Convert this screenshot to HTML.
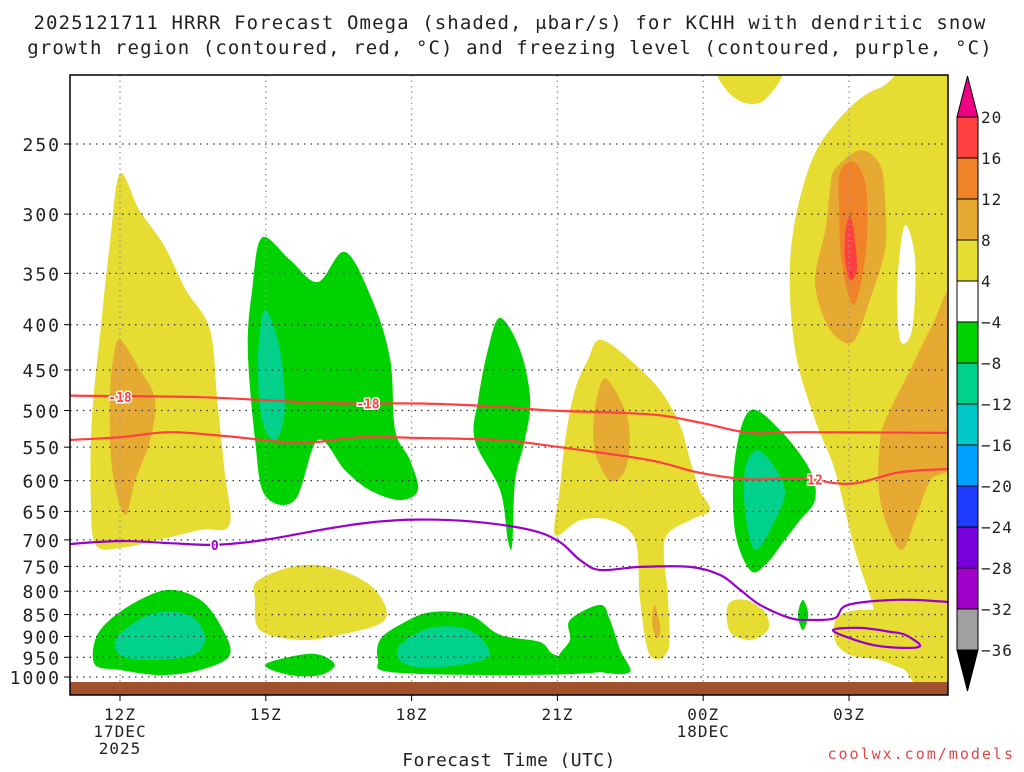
<!DOCTYPE html>
<html><head><meta charset="utf-8"><style>
body{margin:0;background:#fff;width:1024px;height:768px;overflow:hidden;font-family:"DejaVu Sans Mono",monospace}
svg text{font-family:"DejaVu Sans Mono","Liberation Mono",monospace;fill:#222}
</style></head><body>
<svg id="chart" width="1024" height="768" xmlns="http://www.w3.org/2000/svg">
<text x="510" y="29" font-size="19" letter-spacing="1.1" text-anchor="middle">2025121711 HRRR Forecast Omega (shaded, μbar/s) for KCHH with dendritic snow</text>
<text x="510" y="54" font-size="19" letter-spacing="1.1" text-anchor="middle">growth region (contoured, red, °C) and freezing level (contoured, purple, °C)</text>
<g id="plot"></g>
<g id="axes"></g>
<g id="cbar"></g>
<text x="509" y="766" font-size="18" letter-spacing="0.4" text-anchor="middle">Forecast Time (UTC)</text>
<text x="1015" y="759" font-size="15" letter-spacing="2" text-anchor="end" style="fill:#e04848">coolwx.com/models</text>
</svg>
<script>
// ---- data (hours since 12Z, pressure hPa) ----
const pressureTicks=[250,300,350,400,450,500,550,600,650,700,750,800,850,900,950,1000];
const timeTicks=[0,3,6,9,12,15];
const timeLabels=["12Z","15Z","18Z","21Z","00Z","03Z"];
const dateLabels=[["17DEC","2025"],[],[],[],["18DEC"],[]];
const cbarLevels=[20,16,12,8,4,-4,-8,-12,-16,-20,-24,-28,-32,-36];
const cbarColors=["#ff4040","#f08228","#e6aa32","#e6dc32","#ffffff","#00d200","#00d28c","#00c8c8","#00a0ff","#1e3cff","#7800dc","#a000c8","#a0a0a0"];
const yellowA=[[0,270],[0.4,297],[0.9,325],[1.35,365],[1.85,405],[2.0,486],[2.15,584],[2.25,673],[1.65,682],[0.8,700],[0,715],[-0.5,709],[-0.6,631],[-0.58,512],[-0.4,405],[-0.2,321]];
const yellowD=[[9.88,416],[10.49,438],[11.11,474],[11.52,519],[11.73,569],[11.93,615],[12.14,648],[11.73,665],[11.21,700],[11.28,818],[11.28,932],[10.9,944],[10.7,818],[10.6,700],[10.08,665],[9.47,665],[8.95,691],[9.05,615],[9.16,540],[9.36,474],[9.63,438]];
const yellowTop=[[12.35,205],[13.6,205],[13.3,222],[12.9,225],[12.5,218]];
const yellowE=[[15.64,216],[17.2,216],[17.2,982],[16.15,982],[16.15,908],[15.64,873],[15.43,808],[15.12,718],[14.71,584],[14.3,512],[13.89,427],[13.79,338],[14.09,275],[14.61,241]];
const yellowF=[[14.81,851],[15.64,840],[17.2,862],[17.2,982],[16.26,982],[15.64,957],[15.02,944],[14.71,908]];
const yellowSmall=[[12.51,829],[12.86,818],[13.27,845],[13.33,885],[12.96,908],[12.55,889]];
const yellowLow=[[2.84,778],[3.7,748],[4.53,757],[5.25,797],[5.45,862],[4.53,896],[3.7,908],[2.88,885],[2.78,818]];
const orangeA=[[0,416],[0.41,450],[0.72,486],[0.62,540],[0.31,600],[0.1,656],[-0.16,584],[-0.21,486],[-0.14,438]];
const orangeD=[[9.98,460],[10.39,500],[10.49,540],[10.39,584],[10.08,600],[9.77,555],[9.77,500]];
const orangeSmall=[[11.0,830],[11.12,880],[11.05,905],[10.95,870]];
const orangeE1=[[14.71,267],[15.23,254],[15.64,264],[15.74,289],[15.74,329],[15.43,375],[15.12,416],[14.81,416],[14.51,396],[14.3,356],[14.51,313],[14.61,282]];
const orangeE2=[[17.2,365],[16.67,405],[16.26,450],[15.84,500],[15.64,540],[15.64,631],[16.05,718],[16.36,665],[16.67,600],[17.2,555]];
const orangeCore=[[14.81,270],[15.1,262],[15.35,280],[15.35,330],[15.1,380],[14.85,340],[14.8,300]];
const redE=[[15.02,301],[15.12,321],[15.16,347],[15.02,356],[14.92,338],[14.92,317]];
const whiteHole=[[16.15,309],[16.36,338],[16.3,405],[16.05,416],[16,356]];
const greenB=[[2.92,319],[3.5,338],[4.07,358],[4.63,331],[5.19,375],[5.56,438],[5.66,526],[5.97,569],[6.13,615],[5.76,631],[5.14,615],[4.63,584],[4.07,540],[3.6,631],[2.98,623],[2.78,540],[2.63,427],[2.72,365]];
const greenC=[[7.82,393],[8.23,427],[8.44,486],[8.33,540],[8.13,600],[8.07,709],[7.98,700],[7.82,615],[7.3,540],[7.37,486],[7.57,427]];
const greenG1=[[-0.51,908],[-0.21,862],[0.41,818],[1.03,797],[1.65,818],[2.06,873],[2.26,944],[1.65,982],[0.82,995],[0,982],[-0.51,969]];
const greenG2=[[2.98,969],[3.7,944],[4.12,944],[4.42,969],[4.12,995],[3.5,995]];
const greenG3=[[5.35,908],[5.76,873],[6.38,845],[7.2,851],[7.82,896],[8.64,913],[8.95,944],[9.67,957],[9.88,987],[7.82,995],[5.56,987],[5.31,957]];
const greenG3b=[[9.26,862],[9.88,829],[10.08,862],[10.29,932],[10.49,987],[9.88,987],[9.05,957],[9.26,908]];
const greenG4=[[12.96,500],[13.58,526],[14.2,584],[14.3,631],[13.99,665],[13.68,700],[13.27,748],[12.96,757],[12.65,682],[12.65,569]];
const greenTiny=[[14.05,818],[14.16,851],[14.05,885],[13.95,851]];
const tealB=[[2.98,385],[3.29,427],[3.39,500],[3.19,540],[2.92,512],[2.84,438]];
const tealG1=[[-0.05,900],[0.62,850],[1.4,850],[1.75,900],[1.5,944],[0.62,957],[0,944]];
const tealG3=[[5.76,920],[6.38,880],[7.2,885],[7.61,944],[6.99,969],[6.17,975],[5.76,957]];
const tealG4=[[13.07,555],[13.37,569],[13.68,615],[13.48,665],[13.07,718],[12.86,648],[12.86,584]];
const dgzUpper=[[-1.1,481],[1.65,483],[3.7,489],[4.73,491],[6.17,491],[7.82,495],[8.85,500],[10.9,505],[11.93,516],[12.96,530],[13.99,529],[17.1,530]];
const dgzLower=[[-1.1,540],[0,536],[1.03,529],[2.26,535],[3.7,544],[4.94,536],[6.17,537],[7.82,540],[9.05,550],[10.9,569],[11.93,588],[12.96,598],[13.99,596],[15.02,605],[16.05,587],[17.1,582]];
const freezing=[[-1.1,708],[0,702],[1.03,706],[1.95,709],[2.98,700],[4.12,682],[5.14,669],[6.07,664],[7.2,667],[8.44,682],[9.05,704],[9.47,738],[9.88,757],[10.7,751],[11.73,751],[12.35,767],[12.76,797],[13.17,829],[13.79,858],[14.2,862],[14.71,858],[14.98,829],[16.05,818],[17.1,823]];
const freezingLoop=[[14.67,885],[15.23,880],[15.84,889],[16.15,896],[16.46,920],[16.26,927],[15.64,923],[15.12,908]];
// ---- scales ----
const L=70,R=948,T=75,B=695;
const xs=h=>120+48.6*h;
const ys=p=>144+384.5*Math.log(p/250);
const NS="http://www.w3.org/2000/svg";
function mk(tag,attrs,parent){const e=document.createElementNS(NS,tag);for(const k in attrs)e.setAttribute(k,attrs[k]);parent.appendChild(e);return e;}
function smooth(pts,closed){const P=pts.map(d=>[xs(d[0]),ys(d[1])]);const n=P.length;let s="M"+P[0][0].toFixed(1)+","+P[0][1].toFixed(1);
 const lim=closed?n:n-1;
 for(let i=0;i<lim;i++){const p0=P[(i-1+n)%n],p1=P[i],p2=P[(i+1)%n],p3=P[(i+2)%n];
  const a=(!closed&&i==0)?p1:p0,b=(!closed&&i+2>=n)?p2:p3;
  s+=" C"+(p1[0]+(p2[0]-a[0])/6).toFixed(1)+","+(p1[1]+(p2[1]-a[1])/6).toFixed(1)+" "+(p2[0]-(b[0]-p1[0])/6).toFixed(1)+","+(p2[1]-(b[1]-p1[1])/6).toFixed(1)+" "+p2[0].toFixed(1)+","+p2[1].toFixed(1);}
 return s+(closed?"Z":"");}
const plot=document.getElementById('plot');
mk('clipPath',{id:'clip'},plot);
mk('rect',{x:L,y:T,width:R-L,height:B-T},document.getElementById('clip'));
const g=mk('g',{'clip-path':'url(#clip)'},plot);
const fills=[
 ['yellow-region',"#e6dc32",[yellowA,yellowD,yellowTop,yellowE,yellowF,yellowSmall,yellowLow]],
 ['gold-region',"#e6aa32",[orangeA,orangeD,orangeSmall,orangeE1,orangeE2]],
 ['orange-region',"#f08228",[orangeCore]],
 ['red-region',"#ff4040",[redE]],
 ['white-gap',"#ffffff",[whiteHole]],
 ['green-region',"#00d200",[greenB,greenC,greenG1,greenG2,greenG3,greenG3b,greenG4,greenTiny]],
 ['teal-region',"#00d28c",[tealB,tealG1,tealG3,tealG4]]];
fills.forEach(f=>{f[2].forEach(sh=>{const e=mk('path',{d:smooth(sh,true),fill:f[1]},g);
 
 });});
// grid
pressureTicks.forEach(p=>{const e=mk('line',{x1:L,x2:R,y1:ys(p),y2:ys(p),stroke:"#333","stroke-width":1.3,"stroke-dasharray":"1.5 5"},g);
 
 });
timeTicks.forEach(h=>{const e=mk('line',{x1:xs(h),x2:xs(h),y1:T,y2:B,stroke:"#999","stroke-width":1.3,"stroke-dasharray":"1.5 4"},g);
 
 });
// ground
const gr=mk('rect',{x:L,y:682,width:R-L,height:B-682,fill:"#a0522d"},g);


// lines
[[dgzUpper,"#ff4040",false,'dgz-upper-line'],[dgzLower,"#ff4040",false,'dgz-lower-line'],[freezing,"#9900cc",false,'freezing-level-line'],[freezingLoop,"#9900cc",true,'freezing-level-loop']].forEach(l=>{
 const e=mk('path',{d:smooth(l[0],l[2]),fill:"none",stroke:l[1],"stroke-width":2.2},g);
 
 });
[[0,483,"-18","#ff4040"],[5.1,491,"-18","#ff4040"],[14.3,598,"12","#ff4040"],[1.95,709,"0","#9900cc"]].forEach(t=>{
 const e=mk('text',{x:xs(t[0]),y:ys(t[1])+5,"font-size":13,"font-weight":"bold","text-anchor":"middle",style:"fill:"+t[3]+";stroke:#fff;stroke-width:3;paint-order:stroke"},g);
 e.textContent=t[2];
 
 });
// axes
const ax=document.getElementById('axes');
mk('rect',{x:L,y:T,width:R-L,height:B-T,fill:"none",stroke:"#000","stroke-width":1.5},ax);
pressureTicks.forEach(p=>{mk('line',{x1:L-6,x2:L,y1:ys(p),y2:ys(p),stroke:"#000"},ax);
 const t=mk('text',{x:L-9,y:ys(p)+7,"font-size":18,"letter-spacing":"2","text-anchor":"end"},ax);t.textContent=p;
 
 });
timeTicks.forEach((h,i)=>{mk('line',{x1:xs(h),x2:xs(h),y1:B,y2:B+6,stroke:"#000"},ax);
 const lines=[timeLabels[i]].concat(dateLabels[i]);
 lines.forEach((s,j)=>{const t=mk('text',{x:xs(h),y:720+j*17,"font-size":16,"letter-spacing":"1","text-anchor":"middle"},ax);t.textContent=s;
 
 });});
// colorbar
const cb=document.getElementById('cbar');
const cx=957,cw=21,ct=117,cbt=650,bh=(cbt-ct)/cbarColors.length;
mk('polygon',{points:`${cx},${ct} ${cx+cw/2},76 ${cx+cw},${ct}`,fill:"#f00082",stroke:"#000"},cb);
mk('polygon',{points:`${cx},${cbt} ${cx+cw/2},691 ${cx+cw},${cbt}`,fill:"#000",stroke:"#000"},cb);
cbarColors.forEach((c,i)=>{const e=mk('rect',{x:cx,y:ct+i*bh,width:cw,height:bh,fill:c,stroke:"#000","stroke-width":1},cb);
 
 });
cbarLevels.forEach((v,i)=>{const t=mk('text',{x:cx+cw+3,y:ct+i*bh+6,"font-size":16,"letter-spacing":"1"},cb);t.textContent=(v<0?"\u2212"+(-v):v);
 
 });
</script>
</body></html>
